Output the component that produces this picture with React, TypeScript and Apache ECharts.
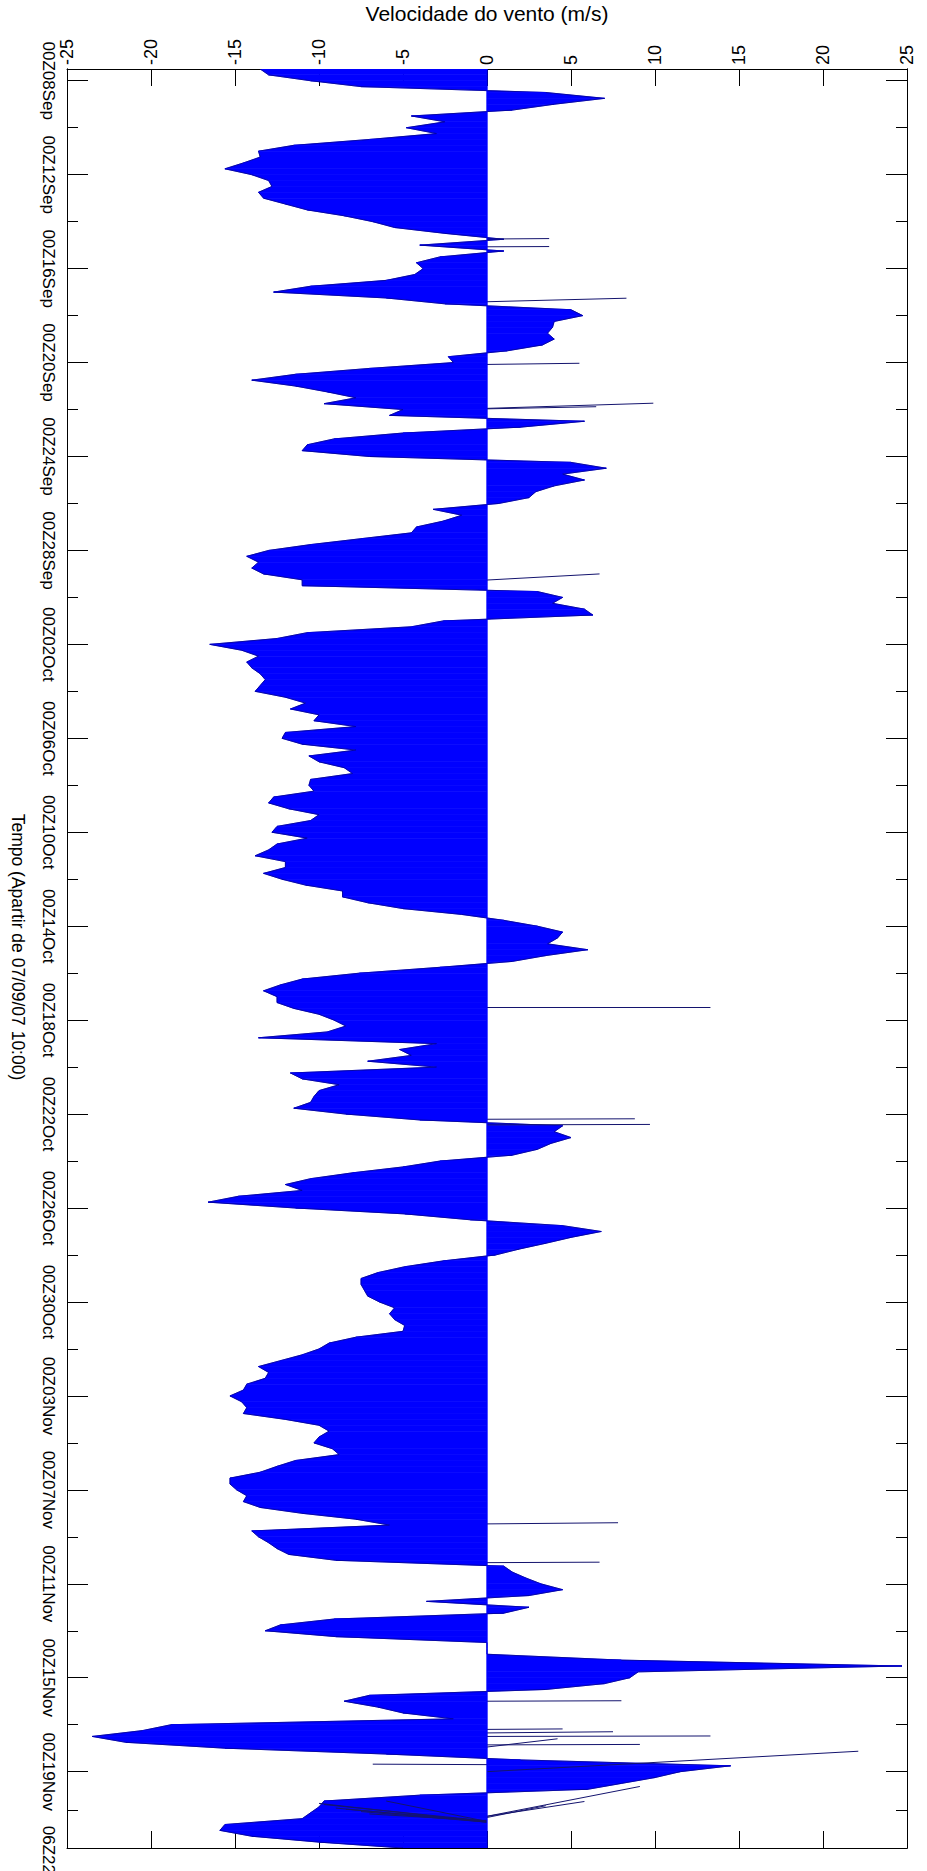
import React, { useEffect, useRef } from "react";
import * as echarts from "echarts";

// time in days from 00Z 08 Sep 2007
const axisStartDay = -0.5; // 07 Sep 12Z
const axisEndDay = 75.25; // 06Z 22 Nov
const sampleStepDay = 0.25; // one value every 6 h

// wind speed (m/s), every 6 h from axisStartDay
const windSpeed = [
  -13.5, -13.0, -10.5, -7.5, 3.5, 7.0, 4.0, 1.5, -4.5, -2.5,
  -4.8, -3.0, -7.0, -11.5, -13.6, -13.5, -14.5, -15.6, -14.0, -13.0,
  -12.8, -13.6, -13.3, -12.0, -10.7, -8.5, -6.8, -5.5, -2.5, 1.0,
  -4.0, 1.0, -2.8, -4.2, -3.8, -4.3, -6.0, -10.5, -12.7, -6.0,
  -2.5, 5.0, 5.7, 4.0, 3.9, 3.6, 4.0, 3.3, 1.2, -2.3,
  -2.0, -7.0,
  -11.4, -14.0, -11.4, -9.5, -7.8, -9.7, -5.0, -5.8, 5.8, 2.0,
  -5.0, -9.1, -10.7, -11.0, -7.0, 5.0, 7.1, 4.5, 5.8, 4.0,
  2.9, 2.5, 0.7, -3.2, -1.5, -2.6, -4.2, -4.5, -7.5, -10.5,
  -13.0, -14.3, -13.6, -14.0, -13.3, -11.0, -11.0, 3.0, 4.5, 3.9,
  5.8, 6.3, -2.6, -4.5, -10.7, -12.5, -16.5, -14.6, -13.6, -14.3,
  -14.0,
  -13.5, -13.2, -13.5, -13.8, -12.0, -10.8, -11.7, -10.0, -10.3, -7.8,
  -12.0, -12.2, -11.0, -7.8, -10.6, -10.0, -8.5, -8.0, -10.5, -10.6,
  -10.3, -12.7, -13.0, -11.8, -10.0, -10.5, -12.5, -12.8, -10.7, -12.5,
  -13.0, -13.8, -12.0, -12.0, -13.3, -12.2, -10.8, -8.6, -8.6, -7.1,
  -5.0, -1.5, 1.0, 3.0, 4.5, 4.2, 3.6, 6.0, 3.5, 1.5,
  -2.8, -7.6,
  -11.0, -12.3, -13.3, -12.5, -12.5, -11.5, -10.0, -9.1, -8.4, -9.5,
  -13.6, -3.0, -5.2, -4.5, -7.1, -3.0, -11.7, -11.0, -8.8, -10.0,
  -10.3, -10.5, -11.5, -8.4, -4.0, 4.5, 4.0, 5.0, 3.8, 3.0,
  1.5, -2.8, -5.0, -8.0, -10.5, -12.0, -11.0, -14.8, -16.6, -11.4,
  -4.9, -1.0, 4.5, 6.8, 5.0, 3.5, 1.9, 0.5, -2.6, -4.9,
  -6.5, -7.5,
  -7.5, -7.3, -7.1, -6.4, -5.5, -5.8, -5.5, -4.9, -5.0, -7.8,
  -9.4, -10.0, -11.0, -12.3, -13.6, -13.0, -13.2, -14.3, -14.5, -15.3,
  -14.6, -14.3, -14.5, -12.0, -10.0, -9.4, -10.0, -10.3, -9.2, -8.8,
  -11.4, -12.5, -13.5, -15.3, -15.3, -14.9, -14.3, -14.5, -13.5, -11.0,
  -7.8, -5.8, -14.0, -13.6, -13.0, -12.5, -11.8, -9.0, 1.0, 1.5,
  2.3, 3.2,
  4.5, 2.5, -3.6, 2.5, 1.0, -9.1, -12.3, -13.2, -9.0, 0,
  0, 0, 8.0, 24.7, 9.0, 8.5, 7.0, 3.5, -7.0, -8.5,
  -6.5, -5.0, -2.0, -18.8, -20.5, -23.5, -21.5, -15.6, -6.0, 2.0,
  14.5, 11.5, 10.0, 8.0, 6.0, -4.0, -9.7, -10.0, -10.5, -11.0,
  -15.6, -15.9, -14.0, -10.0, -5.0,
];

// isolated (slanted) sticks: base day, tip day, speed
const stickBaseDay = [6.74, 7.07, 9.41, 12.08, 13.95, 13.97, 21.26, 39.45, 44.22, 44.46, 61.45, 63.1, 69.0, 70.5, 70.86, 70.95, 71.7, 72.0, 73.9, 73.9, 74.1, 74.1, 74.1, 74.12, 74.15, 74.15, 74.15, 73.95, 70.2, 70.35];
const stickTipDay = [6.72, 7.06, 9.26, 12.03, 13.73, 13.88, 21.0, 39.45, 44.2, 44.44, 61.4, 63.08, 68.98, 70.48, 70.84, 70.6, 71.68, 71.13, 72.63, 73.27, 73.4, 73.6, 73.8, 73.25, 73.35, 73.55, 73.7, 73.45, 70.18, 70.3];
const stickSpeed = [3.7, 3.7, 8.3, 5.5, 9.9, 6.5, 6.7, 13.3, 8.8, 9.7, 7.8, 6.7, 8.0, 13.3, 9.1, 4.2, -6.8, 22.1, 9.1, 5.8, -9.7, -8.4, -7.0, -6.0, -10.0, -9.0, -7.5, 3.5, 4.5, 7.5];

// time axis ticks
const majorTickDays = [0, 4, 8, 12, 16, 20, 24, 28, 32, 36, 40, 44, 48, 52, 56, 60, 64, 68, 72, 75.25];
const majorTickLabels = [
  "00Z08Sep", "00Z12Sep", "00Z16Sep", "00Z20Sep", "00Z24Sep", "00Z28Sep", "00Z02Oct",
  "00Z06Oct", "00Z10Oct", "00Z14Oct", "00Z18Oct", "00Z22Oct", "00Z26Oct", "00Z30Oct",
  "00Z03Nov", "00Z07Nov", "00Z11Nov", "00Z15Nov", "00Z19Nov", "06Z22Nov",
];
const minorTickDays = [2, 6, 10, 14, 18, 22, 26, 30, 34, 38, 42, 46, 50, 54, 58, 62, 66, 70, 73.625];

// speed axis
const speedMin = -25;
const speedMax = 25;
const speedStep = 5;

const FONT = "'Liberation Sans', Arial, Helvetica, sans-serif";

export default function App() {
  const ref = useRef<HTMLDivElement>(null);

  useEffect(() => {
    if (!ref.current) return;
    const chart = echarts.init(ref.current, undefined, { renderer: "svg" });

    const lastIdx = majorTickDays.length - 1;
    const labelFor = (val: number) => {
      for (let i = 0; i < majorTickDays.length; i++) {
        if (Math.abs(majorTickDays[i] - val) < 1e-6) {
          return i === lastIdx ? `{last|${majorTickLabels[i]}}` : majorTickLabels[i];
        }
      }
      return "";
    };

    // segments between consecutive samples: [t0, v0, t1, v1]
    const segData: number[][] = [];
    for (let i = 0; i < windSpeed.length - 1; i++) {
      segData.push([
        axisStartDay + i * sampleStepDay,
        windSpeed[i],
        axisStartDay + (i + 1) * sampleStepDay,
        windSpeed[i + 1],
      ]);
    }

    const stickData = stickSpeed.map((v, i) => ({
      coords: [
        [0, stickBaseDay[i]],
        [v, stickTipDay[i]],
      ],
    }));

    const timeAxisBase = (position: string, ticks: number[], len: number, labels: boolean) => ({
      type: "value",
      inverse: true,
      position,
      min: axisStartDay,
      max: axisEndDay,
      axisLine: { show: true, onZero: false, lineStyle: { color: "#000", width: 1 } },
      axisTick: { show: true, inside: true, length: len, customValues: ticks, lineStyle: { color: "#000", width: 1 } },
      axisLabel: labels
        ? {
            show: true,
            customValues: ticks,
            formatter: (val: number) => labelFor(val),
            rotate: -90,
            fontSize: 17,
            fontFamily: FONT,
            color: "#000",
            margin: 10,
            showMinLabel: true,
            showMaxLabel: true,
            rich: {
              last: { fontSize: 17, fontFamily: FONT, color: "#000", padding: [0, 0, 0, 34] },
            },
          }
        : { show: false },
      splitLine: { show: false },
    });

    const speedAxisBase = (position: string, labels: boolean) => ({
      type: "value",
      position,
      min: speedMin,
      max: speedMax,
      interval: speedStep,
      axisLine: { show: true, onZero: false, lineStyle: { color: "#000", width: 1 } },
      axisTick: { show: true, inside: true, length: 17, lineStyle: { color: "#000", width: 1 } },
      axisLabel: labels
        ? {
            show: true,
            rotate: -90,
            fontSize: 18,
            fontFamily: FONT,
            color: "#000",
            margin: 4,
            showMinLabel: true,
            showMaxLabel: true,
          }
        : { show: false },
      splitLine: { show: false },
      ...(labels
        ? {
            name: "Velocidade do vento (m/s)",
            nameLocation: "middle",
            nameGap: 45,
            nameTextStyle: { fontSize: 21, fontFamily: FONT, color: "#000" },
          }
        : {}),
    });

    chart.setOption({
      animation: false,
      backgroundColor: "#ffffff",
      grid: {
        left: 67,
        top: 69,
        width: 840,
        height: 1779,
        containLabel: false,
        outerBoundsMode: "none",
      },
      xAxis: [speedAxisBase("top", true), speedAxisBase("bottom", false)],
      yAxis: [
        timeAxisBase("left", majorTickDays, 21, true),
        timeAxisBase("left", minorTickDays, 11, false),
        timeAxisBase("right", majorTickDays, 21, false),
        timeAxisBase("right", minorTickDays, 11, false),
      ],
      graphic: [
        {
          type: "text",
          x: 18,
          y: 947,
          rotation: -Math.PI / 2,
          style: {
            text: "Tempo (Apartir de 07/09/07 10:00)",
            fontSize: 17.5,
            fontFamily: FONT,
            fill: "#000",
            align: "center",
            verticalAlign: "middle",
          },
        },
      ],
      series: [
        {
          type: "custom",
          xAxisIndex: 0,
          yAxisIndex: 0,
          silent: true,
          clip: true,
          data: segData,
          encode: { x: [1, 3], y: [0, 2] },
          renderItem: (params: any, api: any) => {
            const t0 = api.value(0);
            const v0 = api.value(1);
            const t1 = api.value(2);
            const v1 = api.value(3);
            const b0 = api.coord([0, t0]);
            const p0 = api.coord([v0, t0]);
            const p1 = api.coord([v1, t1]);
            const b1 = api.coord([0, t1]);
            return {
              type: "group",
              children: [
                {
                  type: "polygon",
                  shape: { points: [b0, p0, p1, b1] },
                  style: { fill: "#0000ff", stroke: "#0000ff", lineWidth: 0.7 },
                },
                {
                  type: "line",
                  shape: { x1: p0[0], y1: p0[1], x2: p1[0], y2: p1[1] },
                  style: { stroke: "#00008b", lineWidth: 0.8 },
                },
              ],
            };
          },
        },
        {
          type: "line",
          xAxisIndex: 0,
          yAxisIndex: 0,
          silent: true,
          symbol: "none",
          data: [
            [0, axisStartDay],
            [0, axisEndDay],
          ],
          lineStyle: { color: "#0000ff", width: 1 },
        },
        {
          type: "lines",
          coordinateSystem: "cartesian2d",
          xAxisIndex: 0,
          yAxisIndex: 0,
          silent: true,
          lineStyle: { color: "#14146e", width: 1, opacity: 1, curveness: 0 },
          data: stickData,
        },
      ],
    });

    return () => chart.dispose();
  }, []);

  return (
    <div
      ref={ref}
      style={{ position: "absolute", left: 0, top: 0, width: 927, height: 1871, background: "#fff" }}
    />
  );
}
